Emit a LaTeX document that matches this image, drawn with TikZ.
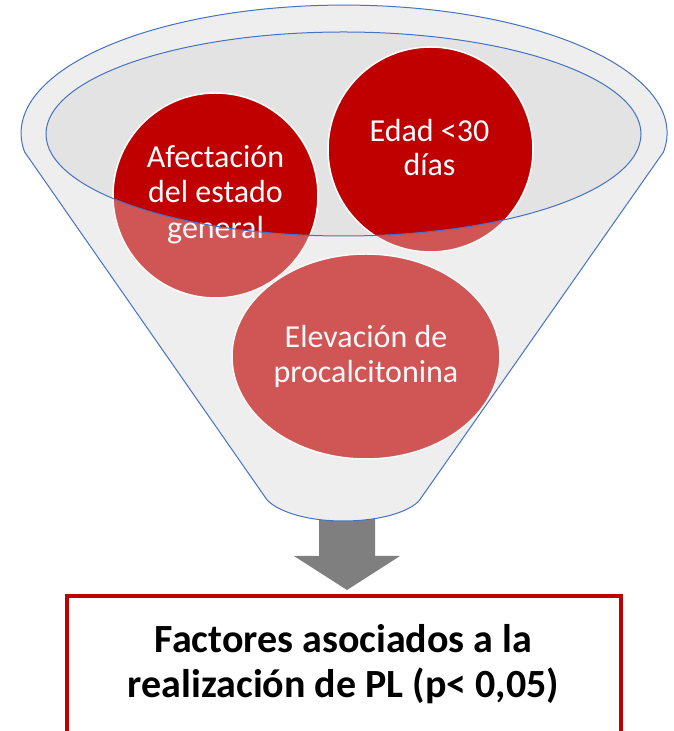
\documentclass[tikz,border=0pt]{standalone}
\usepackage{fontspec}
\setmainfont{Carlito}
\usetikzlibrary{shapes.geometric}
\definecolor{funnelgray}{HTML}{EEEEEE}
\definecolor{mouthgray}{HTML}{E3E3E3}
\definecolor{darkred}{HTML}{C00000}
\definecolor{edgeblue}{HTML}{4472C4}
\definecolor{arrowgray}{HTML}{7F7F7F}
\tikzset{
  bubble/.style={fill=darkred, draw=white, line width=1.5pt, inner sep=0pt, outer sep=0pt},
  bubbletext/.style={text=white, font=\fontsize{32}{35}\selectfont, anchor=base, inner sep=0pt},
  boxtext/.style={text=black, font=\bfseries\fontsize{40}{44}\selectfont, anchor=base, inner sep=0pt},
  outline/.style={draw=edgeblue, line width=1pt},
  resultbox/.style={draw=darkred, line width=4pt, fill=white, inner sep=0pt},
}
\begin{document}
\begin{tikzpicture}[x=1pt,y=1pt]
\useasboundingbox (0,0) rectangle (674,731);
% arrow (under the funnel)
\coordinate (arrowtail) at (347,215);
\fill[arrowgray] (319,215) -- (375,215) -- (375,175) -- (400,175) -- (347,141) -- (294,175) -- (319,175) -- cycle;
% funnel back
\fill[funnelgray] (663.5,579) arc[start angle=-8.5, end angle=188.5, x radius=323pt, y radius=128pt]
  -- (265,234) .. controls (271,223) and (300,210) .. (343,210)
  .. controls (386,210) and (415,222) .. (421,233) -- cycle;
% mouth
\fill[mouthgray] (343.5,597) ellipse [x radius=297.5pt, y radius=102pt];
% bubbles
\node[bubble, circle, minimum size=205pt] (afect) at (215.5,535.5) {};
\node[bubble, circle, minimum size=205pt] (edad) at (430.5,581.5) {};
\node[bubble, ellipse, minimum width=268pt, minimum height=205pt] (elev) at (366,374.5) {};
\node[bubbletext] (afect1) at (215.5,563) {Afectación};
\node[bubbletext] (afect2) at (215.5,528) {del estado};
\node[bubbletext] (afect3) at (215.5,492) {general};
\node[bubbletext] (edad1) at (429.5,589) {Edad <30};
\node[bubbletext] (edad2) at (429.5,555) {días};
\node[bubbletext] (elev1) at (366,383) {Elevación de};
\node[bubbletext] (elev2) at (366,348) {procalcitonina};
% funnel front (translucent, open at the mouth)
\fill[funnelgray, fill opacity=0.36, even odd rule] (663.5,579) arc[start angle=-8.5, end angle=188.5, x radius=323pt, y radius=128pt]
  -- (265,234) .. controls (271,223) and (300,210) .. (343,210)
  .. controls (386,210) and (415,222) .. (421,233) -- cycle
  (343.5,597) ellipse [x radius=297.5pt, y radius=102pt];
\draw[outline] (663.5,579) arc[start angle=-8.5, end angle=188.5, x radius=323pt, y radius=128pt]
  -- (265,234) .. controls (271,223) and (300,210) .. (343,210)
  .. controls (386,210) and (415,222) .. (421,233) -- cycle;
\draw[outline] (343.5,597) ellipse [x radius=297.5pt, y radius=102pt];
% result box
\node[resultbox, minimum width=554pt, minimum height=160pt] (box) at (344,55) {};
\node[boxtext] (box1) at (343.5,78) {Factores asociados a la};
\node[boxtext] (box2) at (343.5,34) {realización de PL (p< 0,05)};
\end{tikzpicture}
\end{document}
